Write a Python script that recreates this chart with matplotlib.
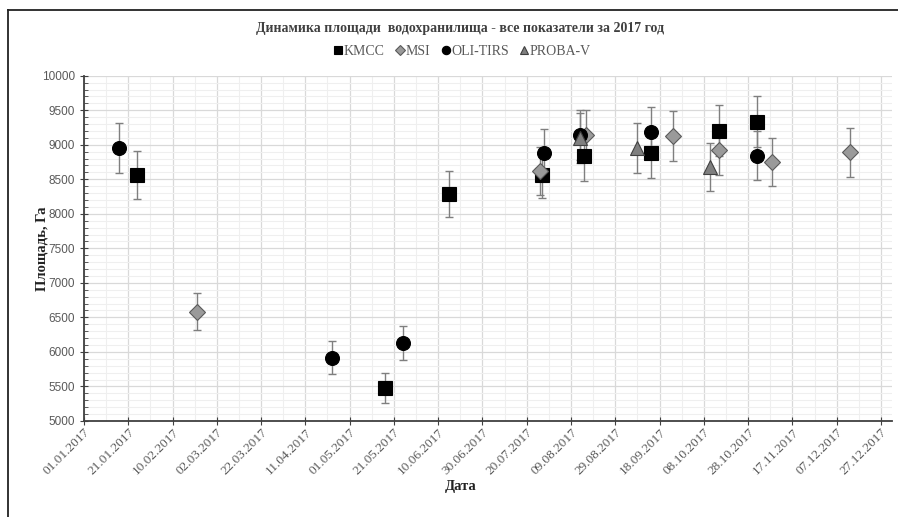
import matplotlib
matplotlib.use("Agg")
import matplotlib.pyplot as plt
import matplotlib.dates as mdates
from matplotlib.lines import Line2D
from matplotlib.ticker import MultipleLocator
import pandas as pd

# Данные (площадь, Га) по датам съёмки
kmcc_dates = ["2017-01-25", "2017-05-17", "2017-06-15", "2017-07-27",
              "2017-08-15", "2017-09-14", "2017-10-15", "2017-11-01"]
kmcc_area = [8560, 5475, 8290, 8565, 8830, 8875, 9205, 9335]

msi_dates = ["2017-02-21", "2017-07-26", "2017-08-16", "2017-09-24",
             "2017-10-15", "2017-11-08", "2017-12-13"]
msi_area = [6585, 8620, 9140, 9127, 8925, 8750, 8890]

oli_dates = ["2017-01-17", "2017-04-23", "2017-05-25", "2017-07-28",
             "2017-08-13", "2017-09-14", "2017-11-01"]
oli_area = [8950, 5915, 6125, 8875, 9140, 9180, 8840]

proba_dates = ["2017-08-13", "2017-09-08", "2017-10-11"]
proba_area = [9100, 8950, 8680]

# погрешность 4 % (процентные планки погрешностей)
ERR_FRAC = 0.04

series = [
    ("KMCC", kmcc_dates, kmcc_area, "s", "black", "black", 10),
    ("MSI", msi_dates, msi_area, "D", "#9a9a9a", "#5a5a5a", 8),
    ("OLI-TIRS", oli_dates, oli_area, "o", "black", "black", 10),
    ("PROBA-V", proba_dates, proba_area, "^", "#7f7f7f", "#404040", 10),
]

serif = ["Liberation Serif", "DejaVu Serif"]
gray_txt = "#595959"

fig = plt.figure(figsize=(8.98, 5.17), dpi=100)
ax = fig.add_axes([0.0935, 0.1857, 0.8998, 0.6679])

for name, d, v, m, fc, ec, ms in series:
    x = pd.to_datetime(d)
    err = [val * ERR_FRAC for val in v]
    ax.errorbar(x, v, yerr=err, fmt="none", ecolor="#7f7f7f", elinewidth=1,
                capsize=3, capthick=1, zorder=3)
    ax.plot(x, v, linestyle="none", marker=m, markersize=ms,
            markerfacecolor=fc, markeredgecolor=ec, markeredgewidth=0.8,
            zorder=4, label=name)

ax.set_xlim(pd.Timestamp("2017-01-01"), pd.Timestamp("2018-01-01"))
ax.set_ylim(5000, 10000)

major_dates = pd.date_range("2017-01-01", "2017-12-31", freq="20D")
minor_dates = pd.date_range("2017-01-01", "2018-01-01", freq="10D")
ax.set_xticks(major_dates)
ax.set_xticks(minor_dates, minor=True)
ax.xaxis.set_major_formatter(mdates.DateFormatter("%d.%m.%Y"))
ax.yaxis.set_major_locator(MultipleLocator(500))
ax.yaxis.set_minor_locator(MultipleLocator(100))

ax.grid(which="major", color="#d9d9d9", linewidth=0.9)
ax.grid(which="minor", color="#efefef", linewidth=0.8)
ax.set_axisbelow(True)

for s in ["top", "right"]:
    ax.spines[s].set_visible(False)
for s in ["left", "bottom"]:
    ax.spines[s].set_color("#404040")
    ax.spines[s].set_linewidth(1.3)

ax.tick_params(axis="x", which="major", direction="inout", length=6,
               color="#404040", labelcolor=gray_txt, labelsize=9.5,
               labelfontfamily="Liberation Serif", labelrotation=45, pad=1)
ax.tick_params(axis="x", which="minor", length=0)
ax.tick_params(axis="y", which="major", direction="inout", length=6,
               color="#404040", labelcolor=gray_txt, labelsize=8.5,
               labelfontfamily="Liberation Sans")
ax.tick_params(axis="y", which="minor", direction="in", length=3,
               color="#404040")

for lab in ax.get_xticklabels():
    lab.set_ha("right")
    lab.set_rotation_mode("anchor")

ax.set_xlabel("Дата", family=serif, fontweight="bold", fontsize=10.5,
              color="#222222")
ax.set_ylabel("Площадь, Га", family=serif, fontweight="bold", fontsize=10.5,
              color="#222222")
ax.xaxis.set_label_coords(0.466, -0.17)
ax.yaxis.set_label_coords(-0.044, 0.5)

fig.text(0.512, 0.945, "Динамика площади  водохранилища - все показатели за 2017 год",
         ha="center", va="center", family=serif, fontweight="bold",
         fontsize=10, color="#404040")

leg = ax.legend(loc="center", bbox_to_anchor=(0.466, 1.07), ncol=4,
                frameon=False, markerscale=0.6, handletextpad=-0.2,
                columnspacing=0.5, handlelength=1.2,
                prop={"family": serif, "size": 10})
for t in leg.get_texts():
    t.set_color(gray_txt)

# рамка области диаграммы (видны только левый и верхний края)
fig.add_artist(Line2D([8 / 898, 8 / 898], [0, 1 - 10 / 517], color="#222222",
                      linewidth=1.3, transform=fig.transFigure))
fig.add_artist(Line2D([8 / 898, 1], [1 - 10 / 517, 1 - 10 / 517], color="#222222",
                      linewidth=1.3, transform=fig.transFigure))

fig.savefig("out.png", dpi=100)
